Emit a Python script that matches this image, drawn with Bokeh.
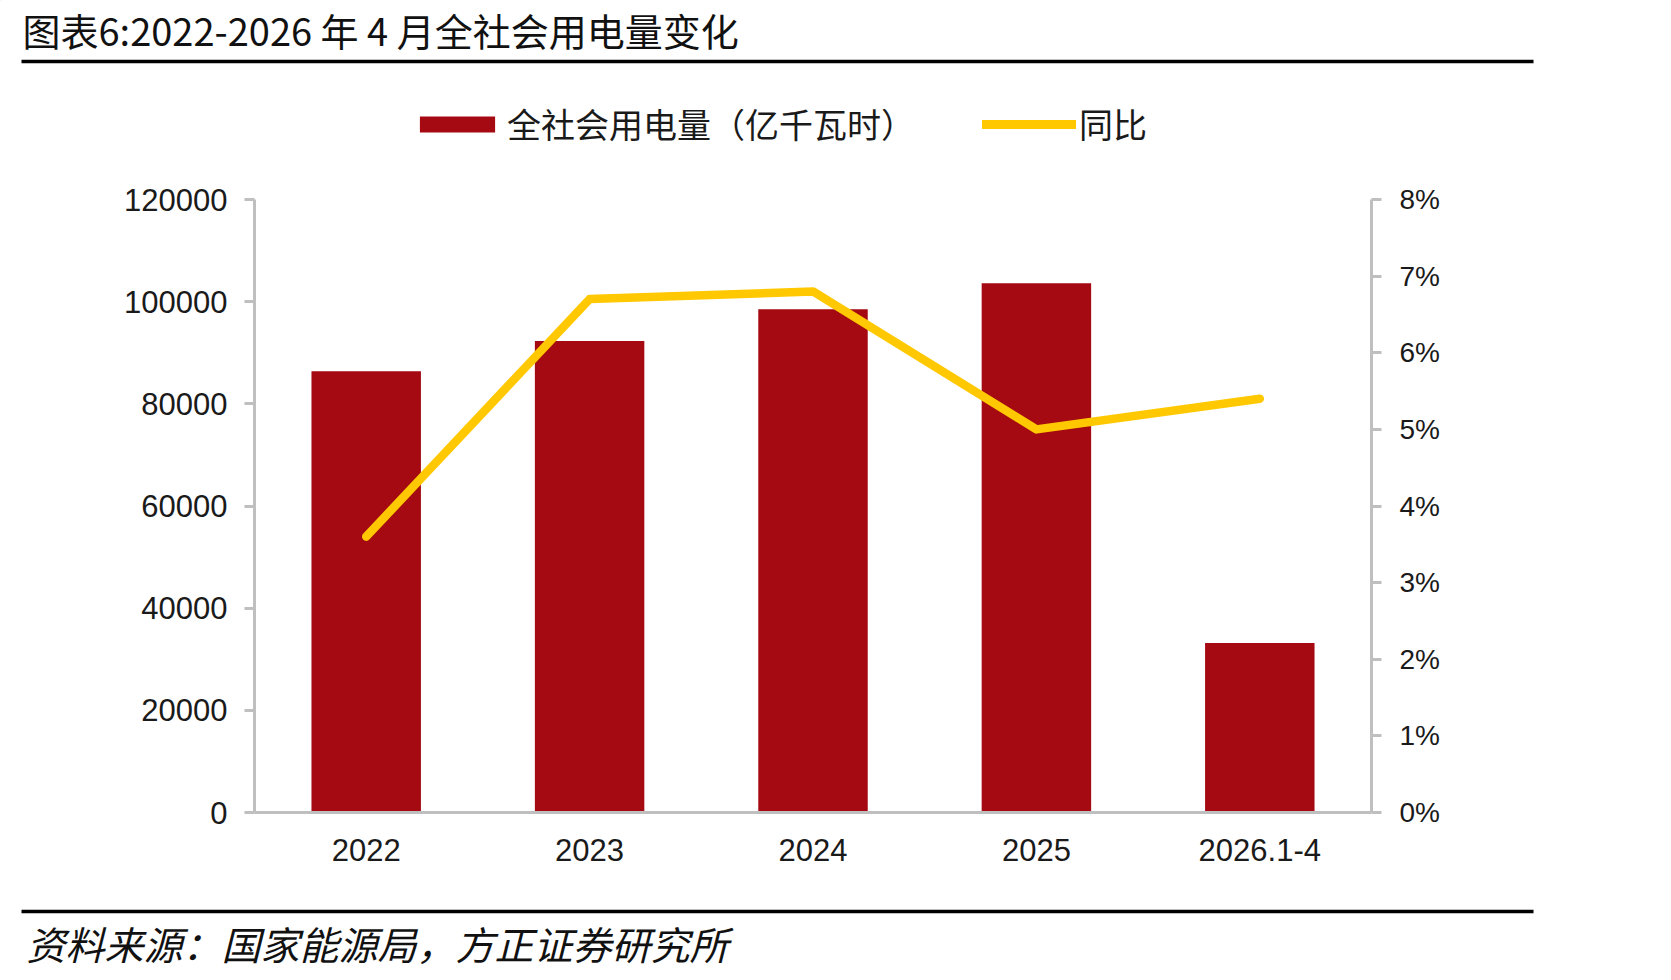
from bokeh.plotting import figure
from bokeh.layouts import column
from bokeh.models import (FactorRange, Range1d, LinearAxis, FixedTicker, NumeralTickFormatter,
                          Legend, LegendItem, ColumnDataSource)
from bokeh.embed import file_html
from bokeh.resources import INLINE

categories = ["2022", "2023", "2024", "2025", "2026.1-4"]
consumption = [86400, 92300, 98500, 103600, 33200]   # 亿千瓦时
yoy = [0.036, 0.067, 0.068, 0.050, 0.054]            # 同比

title_text = "图表6:2022-2026 年 4 月全社会用电量变化"
source_text = "资料来源：国家能源局，方正证券研究所"
bar_label = "全社会用电量（亿千瓦时）"
line_label = "同比"

W = 1671
TOP_H, MAIN_H, BOT_H = 160, 720, 100
FL, FR, FT, FB = 254, 1371, 199, 812   # frame edges in page pixels

CJK = "Noto Sans CJK SC"
NUM = "Liberation Sans"
RED = "#A50A12"
YEL = "#FFC800"
GRAY = "#BFBFBF"
TXT = "#1a1a1a"


def deco_figure(h):
    f = figure(width=W, height=h, x_range=Range1d(0, W), y_range=Range1d(h, 0),
               x_axis_type=None, y_axis_type=None, output_backend="svg",
               toolbar_location=None, min_border=0)
    f.outline_line_color = None
    f.background_fill_color = "white"
    f.border_fill_color = "white"
    return f


# ---------- top: title, rule, legend ----------
top = deco_figure(TOP_H)
top.text(x=[22], y=[29], text=[title_text], text_font={"value": CJK}, text_font_size="38px",
         text_color="#111111", text_baseline="middle", text_align="left")
top.segment(x0=[21], y0=[61], x1=[1533], y1=[61], line_color="black", line_width=3.5)

# off-screen stand-ins so that the legend can draw its swatches in this panel
leg_bar = top.vbar(x=[-500], top=[-500], bottom=[-501], width=1, fill_color=RED, line_color=None)
leg_line = top.line(x=[-500, -499], y=[-500, -500], line_color=YEL, line_width=9, line_cap="round")
legend = Legend(items=[LegendItem(label=bar_label, renderers=[leg_bar]),
                       LegendItem(label=line_label, renderers=[leg_line])],
                orientation="horizontal", location=(410, 12),
                label_text_font=CJK, label_text_font_size="34px", label_text_color=TXT,
                glyph_width=94, glyph_height=20, label_standoff=3, spacing=67,
                border_line_color=None, background_fill_alpha=0, padding=8, margin=0)
top.add_layout(legend, "center")

# ---------- main chart ----------
src = ColumnDataSource(dict(cat=categories, val=consumption, yoy=yoy))
p = figure(width=W, height=MAIN_H, x_range=FactorRange(*categories, range_padding=0),
           y_range=Range1d(0, 120000), output_backend="svg", toolbar_location=None,
           min_border_left=FL, min_border_right=W - FR, min_border_top=FT - TOP_H,
           min_border_bottom=TOP_H + MAIN_H - FB)
p.outline_line_color = None
p.xgrid.visible = False
p.ygrid.visible = False
p.background_fill_color = "white"
p.border_fill_color = "white"
p.extra_y_ranges = {"pct": Range1d(0, 0.08)}

p.vbar(x="cat", top="val", width=0.49, source=src, fill_color=RED, line_color=None)
p.line(x="cat", y="yoy", source=src, y_range_name="pct", line_color=YEL,
       line_width=8.5, line_cap="round", line_join="round")

ya = p.yaxis[0]
ya.ticker = FixedTicker(ticks=[0, 20000, 40000, 60000, 80000, 100000, 120000])
ya.formatter = NumeralTickFormatter(format="0")

ra = LinearAxis(y_range_name="pct", ticker=FixedTicker(ticks=[i / 100 for i in range(9)]),
                formatter=NumeralTickFormatter(format="0%"))
p.add_layout(ra, "right")

for ax in (ya, ra):
    ax.axis_line_color = GRAY
    ax.axis_line_width = 3
    ax.major_tick_line_color = GRAY
    ax.major_tick_line_width = 3
    ax.major_tick_out = 10
    ax.major_tick_in = 0
    ax.minor_tick_line_color = None
    ax.major_label_text_font = NUM
    ax.major_label_text_color = TXT
ya.major_label_text_font_size = "31px"
ya.major_label_standoff = 17
ra.major_label_text_font_size = "28px"
ra.major_label_standoff = 18

xa = p.xaxis[0]
xa.axis_line_color = GRAY
xa.axis_line_width = 3
xa.major_tick_line_color = None
xa.minor_tick_line_color = None
xa.major_label_text_font = NUM
xa.major_label_text_font_size = "31px"
xa.major_label_text_color = TXT
xa.major_label_standoff = 20

# ---------- bottom: rule and source ----------
bot = deco_figure(BOT_H)
bot.segment(x0=[21], y0=[911 - TOP_H - MAIN_H], x1=[1533], y1=[911 - TOP_H - MAIN_H],
            line_color="black", line_width=3.5)
bot.text(x=[26], y=[942 - TOP_H - MAIN_H], text=[source_text], text_font={"value": CJK},
         text_font_size="39px", text_font_style="italic", text_color="#111111",
         text_baseline="middle", text_align="left")

layout = column(column(top), column(p), column(bot), spacing=0)
open("out.html", "w").write(file_html(layout, INLINE))
